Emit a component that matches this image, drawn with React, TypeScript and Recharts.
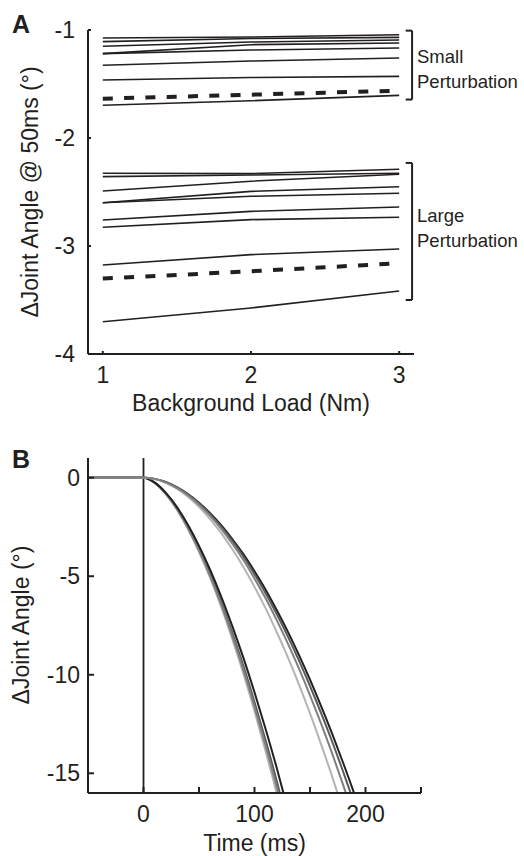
import React from "react";
import { LineChart, Line, XAxis, YAxis, ReferenceLine } from "recharts";

const INK = "#231f20";
const FONT = '"Liberation Sans", Arial, Helvetica, sans-serif';

// ---- Panel A: joint angle at 50 ms vs background load ----
const loads = [1, 2, 3];
const loadTicks = [1, 2, 3];
const angleTicksA = [-1, -2, -3, -4];

// small perturbation, one line per subject
const small1 = [-1.074, -1.065, -1.044];
const small2 = [-1.108, -1.079, -1.068];
const small3 = [-1.151, -1.111, -1.093];
const small4 = [-1.219, -1.136, -1.12];
const small5 = [-1.219, -1.185, -1.167];
const small6 = [-1.327, -1.287, -1.259];
const small7 = [-1.463, -1.44, -1.429];
const small8 = [-1.697, -1.655, -1.605];
const smallMean = [-1.636, -1.599, -1.562];

// large perturbation
const large1 = [-2.327, -2.33, -2.29];
const large2 = [-2.358, -2.343, -2.327];
const large3 = [-2.491, -2.4, -2.336];
const large4 = [-2.599, -2.494, -2.451];
const large5 = [-2.599, -2.54, -2.512];
const large6 = [-2.759, -2.679, -2.639];
const large7 = [-2.827, -2.756, -2.734];
const large8 = [-3.176, -3.08, -3.028];
const large9 = [-3.701, -3.574, -3.417];
const largeMean = [-3.302, -3.234, -3.16];

const solidA: [string, number[]][] = [
  ["small1", small1], ["small2", small2], ["small3", small3], ["small4", small4],
  ["small5", small5], ["small6", small6], ["small7", small7], ["small8", small8],
  ["large1", large1], ["large2", large2], ["large3", large3], ["large4", large4],
  ["large5", large5], ["large6", large6], ["large7", large7], ["large8", large8],
  ["large9", large9],
];
const dashedA: [string, number[]][] = [["smallMean", smallMean], ["largeMean", largeMean]];

const dataA = loads.map((load, i) => {
  const row: Record<string, number> = { load };
  [...solidA, ...dashedA].forEach(([k, arr]) => (row[k] = arr[i]));
  return row;
});

// bracket annotations (data coords)
const bracketX = 3.087;
const bracketArmX = 3.044;
const smallSpan = [-1.006, -1.644];
const largeSpan = [-2.231, -3.5];

// ---- Panel B: joint angle traces ----
const timeMs = [-50, 0, 10, 20, 30, 40, 50, 60, 70, 80, 90, 100, 110, 120, 130, 140, 150, 160, 170, 180, 190, 200];
const timeTicks = [-50, 0, 50, 100, 150, 200, 250];
const timeLabels = [0, 100, 200];
const angleTicksB = [0, -5, -10, -15];

const N = null;
const fastLight = [0, 0, -0.26, -0.83, -1.61, -2.6, -3.77, -5.08, -6.56, -8.2, -9.95, -11.85, -13.88, -16.02, -18.32, N, N, N, N, N, N, N];
const fastMid = [0, 0, -0.26, -0.81, -1.58, -2.55, -3.69, -4.98, -6.43, -8.03, -9.74, -11.61, -13.59, -15.69, -17.94, N, N, N, N, N, N, N];
const fastDark = [0, 0, -0.25, -0.79, -1.55, -2.5, -3.62, -4.88, -6.3, -7.87, -9.55, -11.38, -13.32, -15.38, -17.59, N, N, N, N, N, N, N];
const fastBlack = [0, 0, -0.24, -0.76, -1.48, -2.39, -3.46, -4.67, -6.03, -7.53, -9.14, -10.89, -12.75, -14.72, -16.83, N, N, N, N, N, N, N];
const slowBlack = [0, 0, -0.06, -0.22, -0.48, -0.83, -1.27, -1.8, -2.41, -3.11, -3.88, -4.75, -5.68, -6.71, -7.81, -8.99, -10.25, -11.59, -13.0, -14.49, -16.05, -17.7];
const slowDark = [0, 0, -0.06, -0.23, -0.49, -0.86, -1.31, -1.86, -2.48, -3.21, -4.0, -4.9, -5.86, -6.92, -8.05, -9.27, -10.57, -11.95, -13.4, -14.94, -16.55, N];
const slowMid = [0, 0, -0.06, -0.24, -0.52, -0.89, -1.37, -1.94, -2.6, -3.35, -4.18, -5.12, -6.12, -7.23, -8.41, -9.68, -11.04, -12.48, -14.0, -15.61, -17.29, N];
const slowLight = [0, 0, -0.07, -0.26, -0.56, -0.97, -1.48, -2.1, -2.81, -3.63, -4.53, -5.54, -6.63, -7.83, -9.11, -10.49, -11.96, -13.53, -15.17, -16.91, N, N];

const LIGHT = "#b4b4b4";
const MID = "#808080";
const DARK = "#5a5a5a";

// draw order matters: grey on top in the slow group, black on top in the fast group
const seriesB = [
  { key: "fastLight", values: fastLight, color: LIGHT },
  { key: "fastDark", values: fastDark, color: DARK },
  { key: "fastMid", values: fastMid, color: MID },
  { key: "fastBlack", values: fastBlack, color: INK },
  { key: "slowBlack", values: slowBlack, color: INK },
  { key: "slowDark", values: slowDark, color: DARK },
  { key: "slowLight", values: slowLight, color: LIGHT },
  { key: "slowMid", values: slowMid, color: MID },
];

const dataB = timeMs.map((t, i) => {
  const row: Record<string, number | null> = { t };
  seriesB.forEach((s) => (row[s.key] = s.values[i]));
  return row;
});

// ticks point inward, labels outside
// eslint-disable-next-line @typescript-eslint/no-explicit-any
function LeftTick({ x, y, payload, len, gap }: any) {
  return (
    <g>
      <line x1={x} y1={y} x2={x + len} y2={y} stroke={INK} strokeWidth={2} />
      <text x={x - gap} y={y} dy="0.35em" textAnchor="end" fill={INK} fontSize={23} fontFamily={FONT}>
        {payload.value}
      </text>
    </g>
  );
}

// eslint-disable-next-line @typescript-eslint/no-explicit-any
function BottomTick({ x, y, payload, len, show }: any) {
  const visible = !show || show.includes(payload.value);
  return (
    <g>
      <line x1={x} y1={y} x2={x} y2={y - len} stroke={INK} strokeWidth={2} />
      {visible && (
        <text x={x} y={y + 29} textAnchor="middle" fill={INK} fontSize={23} fontFamily={FONT}>
          {payload.value}
        </text>
      )}
    </g>
  );
}

const axisLine = { stroke: INK, strokeWidth: 2 };

export default function App() {
  const brackets = [smallSpan, largeSpan].flatMap(([top, bottom], i) => [
    <ReferenceLine
      key={`bv${i}`}
      segment={[{ x: bracketX, y: top }, { x: bracketX, y: bottom }]}
      stroke={INK}
      strokeWidth={2}
      ifOverflow="visible"
    />,
    <ReferenceLine
      key={`bt${i}`}
      segment={[{ x: bracketArmX, y: top }, { x: bracketX, y: top }]}
      stroke={INK}
      strokeWidth={2}
      ifOverflow="visible"
    />,
    <ReferenceLine
      key={`bb${i}`}
      segment={[{ x: bracketArmX, y: bottom }, { x: bracketX, y: bottom }]}
      stroke={INK}
      strokeWidth={2}
      ifOverflow="visible"
    />,
  ]);

  return (
    <div style={{ position: "absolute", left: 0, top: 0, width: 524, height: 856, background: "#fff" }}>
      <div style={{ position: "absolute", left: 0, top: 0 }}>
        <LineChart width={524} height={420} data={dataA} margin={{ top: 30, right: 110, bottom: 26, left: 28 }}>
          <XAxis
            type="number"
            dataKey="load"
            domain={[0.9, 3.1]}
            ticks={loadTicks}
            interval={0}
            height={40}
            axisLine={axisLine}
            tickLine={false}
            tickSize={0}
            tickMargin={0}
            tick={(p) => <BottomTick {...p} len={3} />}
          />
          <YAxis
            type="number"
            domain={[-4, -1]}
            ticks={angleTicksA}
            interval={0}
            width={60}
            axisLine={axisLine}
            tickLine={false}
            tickSize={0}
            tickMargin={0}
            tick={(p) => <LeftTick {...p} len={3} gap={13} />}
          />
          {solidA.map(([k]) => (
            <Line
              key={k}
              type="linear"
              dataKey={k}
              stroke={INK}
              strokeWidth={1.6}
              dot={false}
              activeDot={false}
              isAnimationActive={false}
            />
          ))}
          {dashedA.map(([k]) => (
            <Line
              key={k}
              type="linear"
              dataKey={k}
              stroke={INK}
              strokeWidth={4}
              strokeDasharray="10 11.3"
              dot={false}
              activeDot={false}
              isAnimationActive={false}
            />
          ))}
          {brackets}
        </LineChart>
      </div>

      <div style={{ position: "absolute", left: 0, top: 420 }}>
        <LineChart width={524} height={436} data={dataB} margin={{ top: 38, right: 103, bottom: 23, left: 28 }}>
          <XAxis
            type="number"
            dataKey="t"
            domain={[-50, 250]}
            ticks={timeTicks}
            interval={0}
            height={40}
            axisLine={axisLine}
            tickLine={false}
            tickSize={0}
            tickMargin={0}
            tick={(p) => <BottomTick {...p} len={6} show={timeLabels} />}
          />
          <YAxis
            type="number"
            domain={[-16, 1]}
            allowDataOverflow
            ticks={angleTicksB}
            interval={0}
            width={60}
            axisLine={axisLine}
            tickLine={false}
            tickSize={0}
            tickMargin={0}
            tick={(p) => <LeftTick {...p} len={6} gap={8} />}
          />
          <ReferenceLine x={0} stroke={INK} strokeWidth={1.8} />
          {seriesB.map((s) => (
            <Line
              key={s.key}
              type="monotone"
              dataKey={s.key}
              stroke={s.color}
              strokeWidth={2}
              dot={false}
              activeDot={false}
              connectNulls={false}
              isAnimationActive={false}
            />
          ))}
        </LineChart>
      </div>

      <svg
        width={524}
        height={856}
        style={{ position: "absolute", left: 0, top: 0, pointerEvents: "none" }}
        fontFamily={FONT}
        fill={INK}
      >
        <text x={12} y={33} fontSize={25} fontWeight="bold">A</text>
        <text x={12} y={468} fontSize={25} fontWeight="bold">B</text>

        <text x={417} y={63} fontSize={18.5}>Small</text>
        <text x={417} y={88} fontSize={18.5}>Perturbation</text>
        <text x={417} y={222} fontSize={18.5}>Large</text>
        <text x={417} y={247} fontSize={18.5}>Perturbation</text>

        <text x={251} y={411} fontSize={23} textAnchor="middle">Background Load (Nm)</text>
        <text x={30} y={192} fontSize={23} textAnchor="middle" dominantBaseline="central" transform="rotate(-90 30 192)">
          ΔJoint Angle @ 50ms (°)
        </text>

        <text x={254.5} y={851} fontSize={23} textAnchor="middle">Time (ms)</text>
        <text x={21} y={625} fontSize={23} textAnchor="middle" dominantBaseline="central" transform="rotate(-90 21 625)">
          ΔJoint Angle (°)
        </text>
      </svg>
    </div>
  );
}
